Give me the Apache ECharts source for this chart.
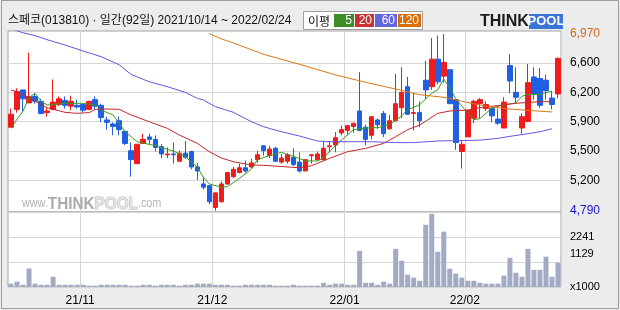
<!DOCTYPE html>
<html>
<head>
<meta charset="utf-8">
<script src="https://cdn.jsdelivr.net/npm/echarts@6/dist/echarts.min.js"></script>
<style>
  html, body { margin: 0; padding: 0; background: #ececec; }
  #chart { width: 620px; height: 310px; }
</style>
</head>
<body>
<div id="chart"></div>
<script>
// 스페코(013810) 일봉 데이터
const stockName = '스페코(013810)'
const dates = [
  '2021/10/14','2021/10/15','2021/10/18','2021/10/19','2021/10/20','2021/10/21','2021/10/22','2021/10/25','2021/10/26','2021/10/27','2021/10/28','2021/10/29',
  '2021/11/01','2021/11/02','2021/11/03','2021/11/04','2021/11/05','2021/11/08','2021/11/09','2021/11/10','2021/11/11','2021/11/12','2021/11/15','2021/11/16','2021/11/17','2021/11/18','2021/11/19','2021/11/22','2021/11/23','2021/11/24','2021/11/25','2021/11/26','2021/11/29','2021/11/30',
  '2021/12/01','2021/12/02','2021/12/03','2021/12/06','2021/12/07','2021/12/08','2021/12/09','2021/12/10','2021/12/13','2021/12/14','2021/12/15','2021/12/16','2021/12/17','2021/12/20','2021/12/21','2021/12/22','2021/12/23','2021/12/24','2021/12/27','2021/12/28','2021/12/29','2021/12/30',
  '2022/01/03','2022/01/04','2022/01/05','2022/01/06','2022/01/07','2022/01/10','2022/01/11','2022/01/12','2022/01/13','2022/01/14','2022/01/17','2022/01/18','2022/01/19','2022/01/20','2022/01/21','2022/01/24','2022/01/25','2022/01/26','2022/01/27','2022/01/28',
  '2022/02/03','2022/02/04','2022/02/07','2022/02/08','2022/02/09','2022/02/10','2022/02/11','2022/02/14','2022/02/15','2022/02/16','2022/02/17','2022/02/18','2022/02/21','2022/02/22','2022/02/23','2022/02/24'
]
const opens = [
  5820,6040,6280,6120,6200,6140,6000,6040,6100,6150, 6080,6090,6100,6040,6160,6090,5910,5860,5900,5770,
  5530,5370,5620,5700,5670,5580,5480,5490,5400,5500, 5520,5330,5120,5100,4830,4900,5120,5210,5260,5320,
  5330,5420,5590,5470,5560,5390,5400,5450,5390,5280, 5470,5420,5420,5580,5600,5750,5780,5830,6020,5820,
  5720,5910,5990,5800,5900,6060,6320,5990,6000,6400, 6320,6660,6450,6530,6160,5520,5700,5930,6110,6050,
  6050,5920,5810,6580,6250,5810,5890,6440,6420,6400, 6180,6230
]
const closes = [
  5980,6260,6170,6200,6140,5990,6020,6130,6170,6090, 6140,6070,6030,6140,6080,5940,5880,5830,5790,5620,
  5420,5610,5670,5670,5570,5490,5490,5480,5500,5450, 5330,5280,5080,4900,5010,5120,5260,5300,5320,5280,
  5380,5480,5530,5550,5400,5440,5480,5360,5280,5420, 5480,5490,5560,5590,5690,5790,5840,5870,5780,5670,
  5950,5850,5740,5900,6110,6250,5980,6000,5900,6280, 6660,6380,6620,6110,5630,5610,6030,6140,6160,6100,
  5960,5870,6130,6390,6190,5950,6370,6230,6090,6270, 6100,6670
]
const lows = [
  5820,6000,6010,6120,6110,5980,5950,6030,6080,6050, 6030,6050,6000,6030,6030,5880,5790,5720,5720,5600,
  5210,5370,5620,5610,5520,5440,5440,5370,5400,5430, 5300,5170,5050,4870,4790,4890,5110,5190,5250,5260,
  5320,5380,5470,5440,5390,5370,5370,5340,5260,5280, 5370,5410,5410,5510,5510,5720,5720,5750,5770,5600,
  5670,5800,5700,5790,5890,5930,5970,5780,5820,6170, 6280,6350,6370,6110,5540,5310,5700,5870,5930,6020,
  5880,5850,5810,6240,6120,5740,5890,6160,6060,6160, 6040,6180
]
const highs = [
  6050,6300,6280,6740,6240,6170,6070,6410,6200,6200, 6210,6160,6110,6140,6200,6110,5950,5880,5950,5770,
  5630,5610,5740,5740,5720,5610,5570,5630,5530,5650, 5530,5380,5210,5110,5010,5150,5270,5330,5370,5410,
  5430,5530,5600,5590,5580,5490,5500,5560,5510,5420, 5490,5520,5650,5650,5760,5840,5840,5870,6500,5850,
  5960,5930,6020,5970,6480,6560,6440,6240,6140,6640, 6920,6950,6970,6530,6160,5650,6030,6160,6180,6140,
  6070,6050,6190,6720,6560,5990,6600,6560,6550,6470, 6260,6680
]
// 거래량 (천주)
const volumes = [
  150,240,100,830,150,100,100,460,100,100, 100,100,100,60,60,100,100,100,100,100,
  60,60,100,100,60,100,100,100,60,100, 100,150,150,150,100,100,100,60,60,100,
  100,100,100,100,60,60,60,100,60,60, 60,60,190,100,150,150,100,100,1620,190,
  190,100,240,150,1710,1180,550,420,280,2790, 3280,1580,2480,820,600,420,280,280,190,150,
  150,150,510,1310,640,460,1710,770,770,1360, 460,1090
]
// 이동평균선 (그림에서 읽은 값, [인덱스, 값])
const ma5 = [[0,5806],[1,5920],[2,6020],[3,6184],[4,6238],[5,6140],[6,6094],[9,6115],[12,6115],[14,6094],[15,6032],[17,5970],[19,5764],[21,5641],[24,5592],[27,5526],[29,5456],[31,5330],[32,5200],[33,5120],[35,5080],[36,5086],[38,5189],[40,5304],[41,5420],[43,5470],[45,5510],[47,5460],[49,5405],[51,5403],[52,5440],[54,5597],[56,5727],[57,5790],[59,5810],[61,5815],[63,5851],[65,5960],[66,6036],[68,6098],[70,6240],[71,6283],[72,6415],[73,6304],[74,6172],[76,5995],[77,5913],[78,5925],[80,6057],[82,6098],[84,6119],[85,6201],[86,6225],[88,6225],[90,6267]]
const ma20 = [[0,6280],[1,6258],[3,6180],[6,6061],[9,6004],[11,5991],[13,6000],[14,6040],[16,6045],[18,6041],[20,5970],[23,5888],[26,5806],[28,5723],[31,5621],[33,5518],[35,5440],[37,5394],[40,5353],[42,5350],[48,5320],[50,5345],[53,5436],[56,5518],[59,5559],[62,5621],[64,5703],[66,5790],[68,5847],[71,5991],[73,6020],[76,6032],[78,6061],[81,6086],[84,6115],[88,6135],[90,6135]]
const ma60 = [[0,7040],[1,7010],[2,6985],[4,6950],[6,6900],[9,6834],[12,6760],[15,6690],[18,6590],[20,6470],[23,6381],[26,6320],[29,6250],[31,6176],[32,6156],[34,6073],[37,6004],[40,5888],[42,5826],[45,5764],[48,5711],[51,5650],[53,5641],[60,5641],[64,5630],[67,5630],[71,5650],[78,5660],[81,5683],[83,5707],[86,5740],[88,5765],[90,5800]]
const ma120 = [[33,6975],[35,6910],[37,6860],[42,6720],[48,6596],[54,6465],[59,6374],[64,6291],[68,6221],[72,6189],[75,6140],[79,6078],[83,6045],[87,6023],[90,6008]]
// 눈금 라벨
const priceTickLabels = ['5,200', '5,500', '5,900', '6,200', '6,600']
const volumeTickLabels = ['x1000', '1129', '2241']
const xTickLabels = ['21/11', '21/12', '22/01', '22/02']
const maNames = ['5', '20', '60', '120']

const GRID_COLOR = '#d6d6d6'
const RED = '#f01c1c'
const BLUE = '#1f5fe3'
const MA_COLORS = ['#3c9a1e', '#c4282a', '#6655dd', '#dd7711']
const LEGEND_COLORS = ['#3c8c28', '#c83232', '#6464dc', '#d86e0a']

const monthStart = xTickLabels.map(l => dates.findIndex(d => d.slice(2, 4) + '/' + d.slice(5, 7) === l))
const isMonthStart = (i) => monthStart.indexOf(i) >= 0
const maxHigh = Math.max(...highs)
const minLow = Math.min(...lows)
const fmt = (v) => v.toLocaleString('en-US')
const VOL_TOP = 3362

const ohlc = opens.map((o, i) => [o, closes[i], lows[i], highs[i]])
const titleText = stockName + ' · 일간(' + dates.length + '일) ' + dates[0] + ' ~ ' + dates[dates.length - 1]

// 범례 박스
const legendBoxes = [[334, 20], [355, 19], [375, 22], [398, 23]]
const legendGraphics = []
legendBoxes.forEach((b, i) => {
  legendGraphics.push({ type: 'rect', shape: { x: b[0], y: 14, width: b[1], height: 13 }, style: { fill: LEGEND_COLORS[i] } })
  legendGraphics.push({ type: 'text', x: b[0] + b[1] - 2, y: 21, style: { text: maNames[i], fill: '#fff', font: '12px "Liberation Sans"', align: 'right', textAlign: 'right', verticalAlign: 'middle', textVerticalAlign: 'middle' } })
})

const maSeries = [ma5, ma20, ma60, ma120].map((d, i) => ({
  type: 'line',
  name: 'MA' + maNames[i],
  data: d,
  xAxisIndex: 0,
  yAxisIndex: 0,
  symbol: 'none',
  silent: true,
  z: 4,
  lineStyle: { width: 1, color: MA_COLORS[i] }
}))

const myChart = echarts.init(document.getElementById('chart'), null, { renderer: 'canvas' })
const option = {
  backgroundColor: '#ececec',
  animation: false,
  grid: [
    { left: 8, top: 31, width: 553, height: 181, show: true, backgroundColor: '#fff', borderColor: '#a4a4a4', borderWidth: 1 },
    { left: 8, top: 212, width: 553, height: 75, show: true, backgroundColor: '#fff', borderColor: '#a4a4a4', borderWidth: 1 },
    { left: 8, top: 63, width: 553, height: 117.3, show: false }
  ],
  xAxis: [
    {
      type: 'category', gridIndex: 0, data: dates, boundaryGap: true,
      axisLine: { show: false }, axisTick: { show: false }, axisLabel: { show: false },
      splitLine: { show: true, interval: isMonthStart, lineStyle: { color: GRID_COLOR } }
    },
    {
      type: 'category', gridIndex: 1, data: dates, boundaryGap: true,
      axisLine: { show: false }, axisTick: { show: false },
      axisLabel: {
        show: true, interval: isMonthStart, margin: 8, color: '#000', fontSize: 12,
        fontFamily: 'Liberation Sans', padding: [0, 6, 0, 0],
        formatter: (v, i) => xTickLabels[monthStart.indexOf(i)] || ''
      },
      splitLine: { show: true, interval: isMonthStart, lineStyle: { color: GRID_COLOR } }
    },
    { type: 'value', gridIndex: 2, min: 0, max: 1, show: false }
  ],
  yAxis: [
    { type: 'value', gridIndex: 0, min: 4774, max: 7007, show: false },
    {
      type: 'value', gridIndex: 1, position: 'right', min: 0, max: VOL_TOP, interval: VOL_TOP / 3,
      axisLine: { show: false }, axisTick: { show: false },
      splitLine: { show: true, lineStyle: { color: GRID_COLOR } },
      axisLabel: {
        margin: 9, color: '#000', fontSize: 11, fontFamily: 'Liberation Sans',
        formatter: (v, i) => i === 1 ? '{up|' + volumeTickLabels[1] + '}' : (volumeTickLabels[i] || ''),
        rich: { up: { padding: [0, 0, 16, 0], color: '#000', fontSize: 11, fontFamily: 'Liberation Sans' } }
      }
    },
    {
      type: 'value', gridIndex: 2, position: 'right', min: 0, max: 4, interval: 1,
      axisLine: { show: false }, axisTick: { show: false },
      splitLine: { show: true, lineStyle: { color: GRID_COLOR } },
      axisLabel: {
        margin: 9, color: '#000', fontSize: 12, fontFamily: 'Liberation Sans',
        formatter: (v) => priceTickLabels[v] || ''
      }
    }
  ],
  graphic: [
    { type: 'rect', shape: { x: 1.5, y: 0.5, width: 617, height: 308 }, style: { fill: 'transparent', stroke: '#9c9c9c', lineWidth: 1 }, silent: true },
    { type: 'text', x: 8, y: 21, style: { text: titleText, fill: '#111', font: '12px "Liberation Sans", "Noto Sans CJK KR"', verticalAlign: 'middle', textVerticalAlign: 'middle' } },
    { type: 'rect', shape: { x: 303.5, y: 11.5, width: 119, height: 18 }, style: { fill: '#fff', stroke: '#a0a0a0', lineWidth: 1 } },
    { type: 'text', x: 308, y: 21, style: { text: '이평', fill: '#111', font: '12px "Noto Sans CJK KR"', verticalAlign: 'middle', textVerticalAlign: 'middle' } },
    ...legendGraphics,
    { type: 'text', x: 480, y: 21.5, style: { text: 'THINK', fill: '#1b1b1b', font: 'bold 16px "Liberation Sans"', verticalAlign: 'middle', textVerticalAlign: 'middle' } },
    { type: 'rect', shape: { x: 529, y: 14, width: 34, height: 15 }, style: { fill: '#3a74d8' } },
    { type: 'text', x: 546, y: 21.5, style: { text: 'POOL', fill: '#fff', font: 'bold 13px "Liberation Sans"', align: 'center', textAlign: 'center', verticalAlign: 'middle', textVerticalAlign: 'middle' } },
    {
      type: 'text', x: 22, y: 204, z: 1, silent: true, scaleX: 0.9,
      style: {
        text: '{a|www.}{b|THINK}{c|POOL}{a|.com}', verticalAlign: 'middle', textVerticalAlign: 'middle',
        rich: {
          a: { fill: '#b4b4b4', fontSize: 12, fontFamily: 'Liberation Sans' },
          b: { fill: '#acacac', fontSize: 17, fontWeight: 'bold', fontFamily: 'Liberation Sans' },
          c: { fill: '#e2e2e2', stroke: '#b8b8b8', lineWidth: 1, fontSize: 17, fontWeight: 'bold', fontFamily: 'Liberation Sans' }
        }
      }
    }
  ],
  series: [
    {
      type: 'candlestick',
      name: stockName,
      data: ohlc,
      xAxisIndex: 0,
      yAxisIndex: 0,
      barWidth: 5,
      z: 3,
      itemStyle: { color: RED, color0: BLUE, borderColor: RED, borderColor0: BLUE, borderWidth: 1 },
      markLine: {
        silent: true,
        symbol: 'none',
        animation: false,
        lineStyle: { color: 'rgba(0,0,0,0)', width: 0 },
        label: { show: true, position: 'end', distance: 9, fontSize: 12, fontFamily: 'Liberation Sans' },
        data: [
          { yAxis: maxHigh, label: { formatter: fmt(maxHigh), color: '#d2691e', padding: [7, 0, 0, 0] } },
          { yAxis: minLow, label: { formatter: fmt(minLow), color: '#1414cc', padding: [0, 0, 7, 0] } }
        ]
      }
    },
    ...maSeries,
    {
      type: 'bar',
      name: '거래량',
      data: volumes,
      xAxisIndex: 1,
      yAxisIndex: 1,
      barWidth: 5,
      silent: true,
      itemStyle: { color: '#a3abc4' }
    }
  ]
}
option && myChart.setOption(option)
</script>
</body>
</html>
